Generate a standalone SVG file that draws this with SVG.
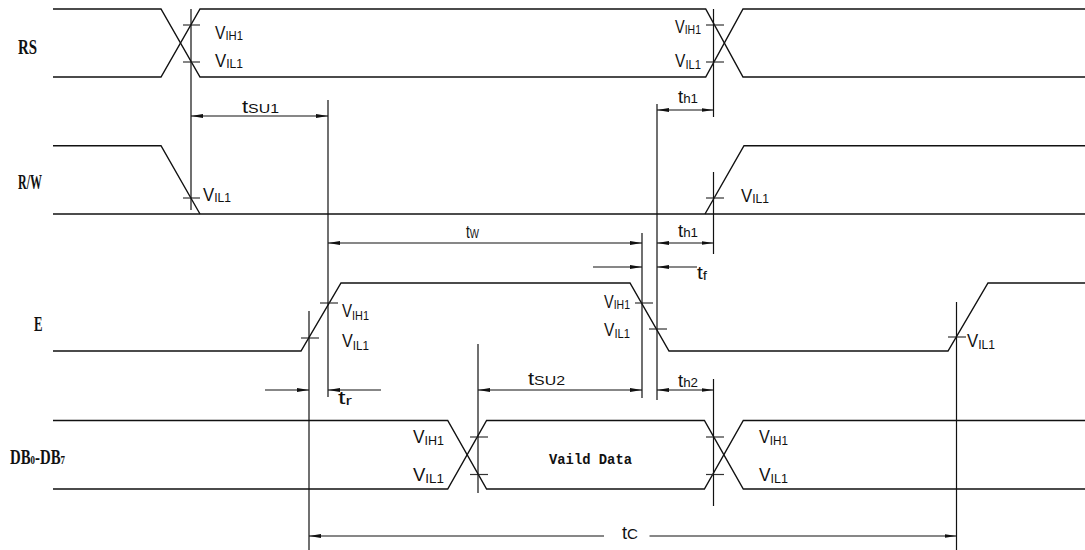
<svg xmlns="http://www.w3.org/2000/svg" width="1085" height="550" viewBox="0 0 1085 550">
<defs>
<style>
.sig{fill:none;stroke:#111;stroke-width:1.4}
.ref{fill:none;stroke:#111;stroke-width:1.2}
.tk{fill:none;stroke:#333;stroke-width:1.2}
.dim{fill:none;stroke:#111;stroke-width:1.1}
.lb{font-family:"Liberation Sans",Arial,sans-serif;font-size:18px;fill:#111}
.sb{font-size:13px}
.nm{font-family:"Liberation Serif","Times New Roman",serif;font-weight:bold;font-size:20px;fill:#111}
.vd{font-family:"Liberation Mono","Courier New",monospace;font-weight:bold;font-size:14px;fill:#111}
</style>
<marker id="ar" viewBox="0 0 12 5" refX="12" refY="2.5" markerWidth="12" markerHeight="5" markerUnits="userSpaceOnUse" orient="auto-start-reverse">
<path d="M0,0.6 L12,2.5 L0,4.4 z" fill="#111"/>
</marker>
</defs>
<rect width="1085" height="550" fill="#fff"/>

<g id="RS">
<polyline class="sig" points="53,9 161,9 200,77 705.7,77 743,9 1085,9"/>
<polyline class="sig" points="53,77 161,77 200,9 705.7,9 743,77 1085,77"/>
<line class="tk" x1="183" y1="25" x2="200" y2="25"/>
<line class="tk" x1="183" y1="62" x2="200" y2="62"/>
<line class="tk" x1="706" y1="25" x2="724" y2="25"/>
<line class="tk" x1="706" y1="62" x2="724" y2="62"/>
<text class="nm" x="18" y="54" textLength="19" lengthAdjust="spacingAndGlyphs">RS</text>
<text class="lb" x="215" y="38.5" textLength="28" lengthAdjust="spacingAndGlyphs">V<tspan class="sb" dy="1.5">IH1</tspan></text>
<text class="lb" x="215" y="66.5" textLength="28" lengthAdjust="spacingAndGlyphs">V<tspan class="sb" dy="1.5">IL1</tspan></text>
<text class="lb" x="675" y="32.5" textLength="26" lengthAdjust="spacingAndGlyphs">V<tspan class="sb" dy="1.5">IH1</tspan></text>
<text class="lb" x="675" y="67" textLength="26" lengthAdjust="spacingAndGlyphs">V<tspan class="sb" dy="1.5">IL1</tspan></text>
</g>

<g id="RW">
<polyline class="sig" points="53,145.7 161,145.7 200,214"/>
<line class="sig" x1="53" y1="214" x2="1085" y2="214"/>
<polyline class="sig" points="705,214 744,145.7 1085,145.7"/>
<line class="tk" x1="183" y1="198" x2="200" y2="198"/>
<line class="tk" x1="706" y1="198" x2="724" y2="198"/>
<text class="nm" x="18" y="189" font-size="17" textLength="24" lengthAdjust="spacingAndGlyphs">R/W</text>
<text class="lb" x="203" y="200.5" textLength="28" lengthAdjust="spacingAndGlyphs">V<tspan class="sb" dy="1.5">IL1</tspan></text>
<text class="lb" x="741" y="201.5" textLength="28" lengthAdjust="spacingAndGlyphs">V<tspan class="sb" dy="1.5">IL1</tspan></text>
</g>

<g id="E">
<polyline class="sig" points="53,351 301,351 341,283 630,283 669,351 948,351 988,283 1085,283"/>
<line class="tk" x1="320" y1="303" x2="338" y2="303"/>
<line class="tk" x1="301" y1="338" x2="319" y2="338"/>
<line class="tk" x1="635" y1="303" x2="653" y2="303"/>
<line class="tk" x1="649" y1="329" x2="667" y2="329"/>
<line class="tk" x1="948" y1="337" x2="966" y2="337"/>
<text class="nm" x="34" y="331" textLength="8.5" lengthAdjust="spacingAndGlyphs">E</text>
<text class="lb" x="342" y="317" textLength="27" lengthAdjust="spacingAndGlyphs">V<tspan class="sb" dy="2.5">IH1</tspan></text>
<text class="lb" x="342" y="347" textLength="27" lengthAdjust="spacingAndGlyphs">V<tspan class="sb" dy="3">IL1</tspan></text>
<text class="lb" x="604" y="308" textLength="26" lengthAdjust="spacingAndGlyphs">V<tspan class="sb" dy="1">IH1</tspan></text>
<text class="lb" x="604" y="336" textLength="26" lengthAdjust="spacingAndGlyphs">V<tspan class="sb" dy="2">IL1</tspan></text>
<text class="lb" x="967" y="347" textLength="28" lengthAdjust="spacingAndGlyphs">V<tspan class="sb" dy="2">IL1</tspan></text>
</g>

<g id="DB">
<polyline class="sig" points="53,420.5 447.7,420.5 486.6,489 704.4,489 743.3,420.5 1085,420.5"/>
<polyline class="sig" points="53,489 447.7,489 486.6,420.5 704.4,420.5 743.3,489 1085,489"/>
<line class="tk" x1="470" y1="437" x2="488" y2="437"/>
<line class="tk" x1="470" y1="474.5" x2="488" y2="474.5"/>
<line class="tk" x1="706" y1="437" x2="724" y2="437"/>
<line class="tk" x1="706" y1="474.5" x2="724" y2="474.5"/>
<text class="nm" x="10" y="464" font-size="17" textLength="55" lengthAdjust="spacingAndGlyphs">DB<tspan font-size="12">0</tspan>-DB<tspan font-size="12">7</tspan></text>
<text class="lb" x="413" y="443" textLength="31" lengthAdjust="spacingAndGlyphs">V<tspan class="sb" dy="1.5">IH1</tspan></text>
<text class="lb" x="413" y="481" textLength="31" lengthAdjust="spacingAndGlyphs">V<tspan class="sb" dy="1.5">IL1</tspan></text>
<text class="lb" x="759" y="443" textLength="29" lengthAdjust="spacingAndGlyphs">V<tspan class="sb" dy="1.5">IH1</tspan></text>
<text class="lb" x="759" y="481" textLength="29" lengthAdjust="spacingAndGlyphs">V<tspan class="sb" dy="1.5">IL1</tspan></text>
<text class="vd" x="549" y="464" textLength="83" lengthAdjust="spacingAndGlyphs">Vaild Data</text>
</g>

<g id="connectors">
<line class="ref" x1="191" y1="9" x2="191" y2="210"/>
<line class="ref" x1="713.5" y1="9" x2="713.5" y2="117"/>
<line class="ref" x1="328" y1="100" x2="328" y2="397"/>
<line class="ref" x1="657" y1="104" x2="657" y2="400"/>
<line class="ref" x1="713.5" y1="172" x2="713.5" y2="254"/>
<line class="ref" x1="642" y1="233" x2="642" y2="398"/>
<line class="ref" x1="309" y1="311" x2="309" y2="550"/>
<line class="ref" x1="956.5" y1="302" x2="956.5" y2="550"/>
<line class="ref" x1="478" y1="344" x2="478" y2="493"/>
<line class="ref" x1="713.5" y1="379" x2="713.5" y2="506"/>
<line class="dim" x1="191" y1="116" x2="328" y2="116" marker-start="url(#ar)" marker-end="url(#ar)"/>
<line class="dim" x1="657" y1="110" x2="713.5" y2="110" marker-start="url(#ar)" marker-end="url(#ar)"/>
<line class="dim" x1="328" y1="243" x2="642" y2="243" marker-start="url(#ar)" marker-end="url(#ar)"/>
<line class="dim" x1="657" y1="243" x2="713.5" y2="243" marker-start="url(#ar)" marker-end="url(#ar)"/>
<line class="dim" x1="593" y1="267" x2="642" y2="267" marker-end="url(#ar)"/>
<line class="dim" x1="697" y1="267" x2="657" y2="267" marker-end="url(#ar)"/>
<line class="dim" x1="265" y1="390" x2="309" y2="390" marker-end="url(#ar)"/>
<line class="dim" x1="381" y1="390" x2="328" y2="390" marker-end="url(#ar)"/>
<line class="dim" x1="478" y1="390" x2="642" y2="390" marker-start="url(#ar)" marker-end="url(#ar)"/>
<line class="dim" x1="657" y1="390" x2="713.5" y2="390" marker-start="url(#ar)" marker-end="url(#ar)"/>
<line class="dim" x1="309" y1="536" x2="604" y2="536" marker-start="url(#ar)"/>
<line class="dim" x1="649.5" y1="536" x2="956.5" y2="536" marker-end="url(#ar)"/>
</g>

<g id="timing-labels">
<text class="lb" x="242" y="113" textLength="37" lengthAdjust="spacingAndGlyphs">t<tspan class="sb">SU1</tspan></text>
<text class="lb" x="678" y="103" textLength="20" lengthAdjust="spacingAndGlyphs">t<tspan class="sb">h1</tspan></text>
<text class="lb" x="466" y="238" textLength="13" lengthAdjust="spacingAndGlyphs">t<tspan class="sb">W</tspan></text>
<text class="lb" x="678" y="237" textLength="20" lengthAdjust="spacingAndGlyphs">t<tspan class="sb">h1</tspan></text>
<text class="lb" x="697" y="278.5" textLength="10" lengthAdjust="spacingAndGlyphs">t<tspan class="sb" dy="1.5">f</tspan></text>
<text class="lb" x="338" y="404" textLength="14" lengthAdjust="spacingAndGlyphs">t<tspan class="sb" dy="1">r</tspan></text>
<text class="lb" x="528" y="385" textLength="37" lengthAdjust="spacingAndGlyphs">t<tspan class="sb">SU2</tspan></text>
<text class="lb" x="678" y="387" textLength="20" lengthAdjust="spacingAndGlyphs">t<tspan class="sb">h2</tspan></text>
<text class="lb" x="622" y="539" textLength="16" lengthAdjust="spacingAndGlyphs">t<tspan font-size="15">C</tspan></text>
</g>
</svg>
